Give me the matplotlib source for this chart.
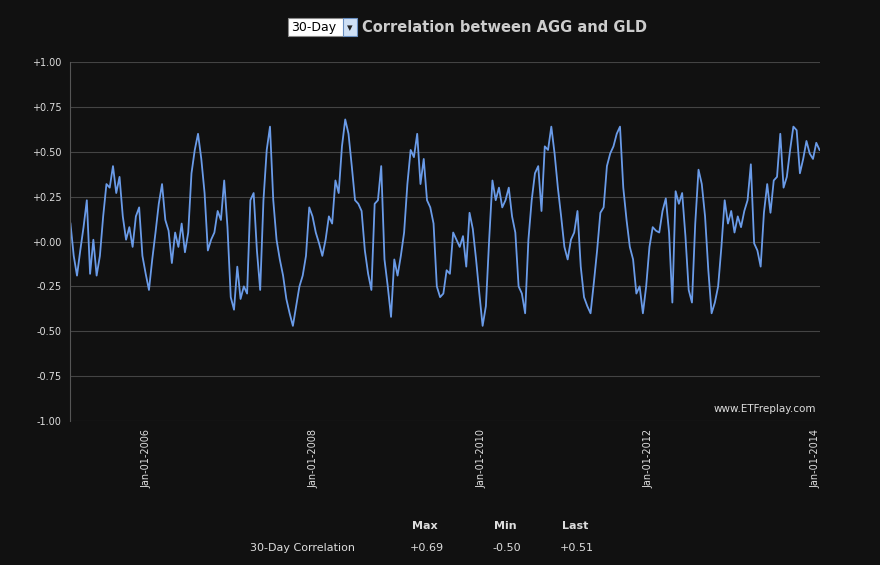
import numpy as np
import pandas as pd
import matplotlib.pyplot as plt
import matplotlib.dates as mdates
from matplotlib.patches import Rectangle

# 30-day rolling correlation, read roughly every half month
corr_values = [
    0.10, -0.08, -0.19, -0.05, 0.08, 0.23, -0.18, 0.01, -0.19, -0.08,
    0.14, 0.32, 0.30, 0.42, 0.27, 0.36, 0.14, 0.01, 0.08, -0.03,
    0.14, 0.19, -0.08, -0.18, -0.27, -0.10, 0.05, 0.21, 0.32, 0.12,
    0.06, -0.12, 0.05, -0.03, 0.10, -0.06, 0.05, 0.38, 0.51, 0.60,
    0.46, 0.27, -0.05, 0.01, 0.05, 0.17, 0.12, 0.34, 0.08, -0.31,
    -0.38, -0.14, -0.32, -0.25, -0.29, 0.23, 0.27, -0.05, -0.27, 0.23,
    0.51, 0.64, 0.23, 0.01, -0.10, -0.19, -0.32, -0.40, -0.47, -0.36,
    -0.25, -0.19, -0.08, 0.19, 0.14, 0.05, -0.01, -0.08, 0.01, 0.14,
    0.10, 0.34, 0.27, 0.53, 0.68, 0.60, 0.42, 0.23, 0.21, 0.17,
    -0.05, -0.18, -0.27, 0.21, 0.23, 0.42, -0.10, -0.25, -0.42, -0.10,
    -0.19, -0.08, 0.05, 0.32, 0.51, 0.47, 0.60, 0.32, 0.46, 0.23,
    0.19, 0.10, -0.25, -0.31, -0.29, -0.16, -0.18, 0.05,
    0.01, -0.03, 0.03, -0.14, 0.16, 0.07, -0.10, -0.29, -0.47, -0.36,
    0.01, 0.34, 0.23, 0.30, 0.19, 0.23, 0.30, 0.14, 0.05, -0.25,
    -0.29, -0.40, 0.01, 0.23, 0.38, 0.42, 0.17, 0.53, 0.51, 0.64,
    0.49, 0.30, 0.14, -0.03, -0.10, 0.01, 0.05, 0.17, -0.14, -0.31,
    -0.36, -0.40, -0.23, -0.05, 0.16, 0.19, 0.42, 0.49, 0.53, 0.60,
    0.64, 0.30, 0.12, -0.03, -0.10, -0.29, -0.25, -0.40, -0.25, -0.03,
    0.08, 0.06, 0.05, 0.17, 0.24, 0.05, -0.34, 0.28, 0.21, 0.27,
    0.03, -0.27, -0.34, 0.10, 0.40, 0.32, 0.14, -0.16, -0.40, -0.34,
    -0.25, -0.03, 0.23, 0.10, 0.17, 0.05, 0.14, 0.08, 0.17, 0.23,
    0.43, -0.01, -0.05, -0.14, 0.16, 0.32, 0.16, 0.34, 0.36, 0.60,
    0.30, 0.36, 0.51, 0.64, 0.62, 0.38, 0.46, 0.56, 0.49, 0.46,
    0.55, 0.51,
]
start_date = "2005-02-01"
end_date = "2014-01-20"
tick_years = [2006, 2008, 2010, 2012, 2014]
stat_names = ["Max", "Min", "Last"]
stat_values = ["+0.69", "-0.50", "+0.51"]

dates = pd.to_datetime(np.linspace(pd.Timestamp(start_date).value,
                                   pd.Timestamp(end_date).value, len(corr_values)))

bg = "#111111"
fig = plt.figure(figsize=(8.8, 5.65), dpi=100, facecolor=bg)
ax = fig.add_axes([70 / 880, 1 - 421 / 565, 750 / 880, 359 / 565], facecolor=bg)

ax.plot(dates, corr_values, color="#6a9be8", linewidth=1.3)

ax.set_ylim(-1, 1)
ax.set_xlim(pd.Timestamp("2005-01-30"), pd.Timestamp("2014-01-22"))
yt = np.arange(-1, 1.01, 0.25)
ax.set_yticks(yt)
ax.set_yticklabels([f"{v:+.2f}" for v in yt], color="#dddddd", fontsize=7)
ax.set_xticks([pd.Timestamp(f"{y}-01-01") for y in tick_years])
ax.set_xticklabels([f"Jan-01-{y}" for y in tick_years], rotation=90,
                   color="#dddddd", fontsize=7)
ax.grid(axis="y", color="#444444", linewidth=0.8)
ax.tick_params(length=0, pad=6)
for s in ["top", "right", "bottom"]:
    ax.spines[s].set_visible(False)
ax.spines["left"].set_color("#555555")

ax.text(0.995, 0.02, "www.ETFreplay.com", transform=ax.transAxes,
        ha="right", va="bottom", color="#dddddd", fontsize=7.5)

# title with dropdown box
fig.patches.append(Rectangle((288 / 880, 1 - 36 / 565), 56 / 880, 18 / 565,
                             transform=fig.transFigure, facecolor="white",
                             edgecolor="#888888", linewidth=0.8))
fig.patches.append(Rectangle((343 / 880, 1 - 36 / 565), 14 / 880, 18 / 565,
                             transform=fig.transFigure, facecolor="#cfe0f5",
                             edgecolor="#6a8fc0", linewidth=0.8))
fig.text(291 / 880, 1 - 27 / 565, "30-Day", color="black", fontsize=9, va="center")
fig.text(350 / 880, 1 - 28 / 565, "▾", color="#222222", fontsize=8,
         va="center", ha="center")
fig.text(362 / 880, 1 - 27 / 565, "Correlation between AGG and GLD",
         color="#cccccc", fontsize=10.5, fontweight="bold", va="center")

# stats table
xs = [425, 505, 575]
for x, name, val in zip(xs, stat_names, stat_values):
    fig.text(x / 880, 1 - 526 / 565, name, color="#dddddd", fontsize=8,
             fontweight="bold", ha="center", va="center")
    fig.text((x + 2) / 880, 1 - 548 / 565, val, color="#dddddd", fontsize=8,
             ha="center", va="center")
fig.text(250 / 880, 1 - 548 / 565, "30-Day Correlation", color="#dddddd",
         fontsize=8, va="center")

fig.savefig("out.png", dpi=100, facecolor=bg)
